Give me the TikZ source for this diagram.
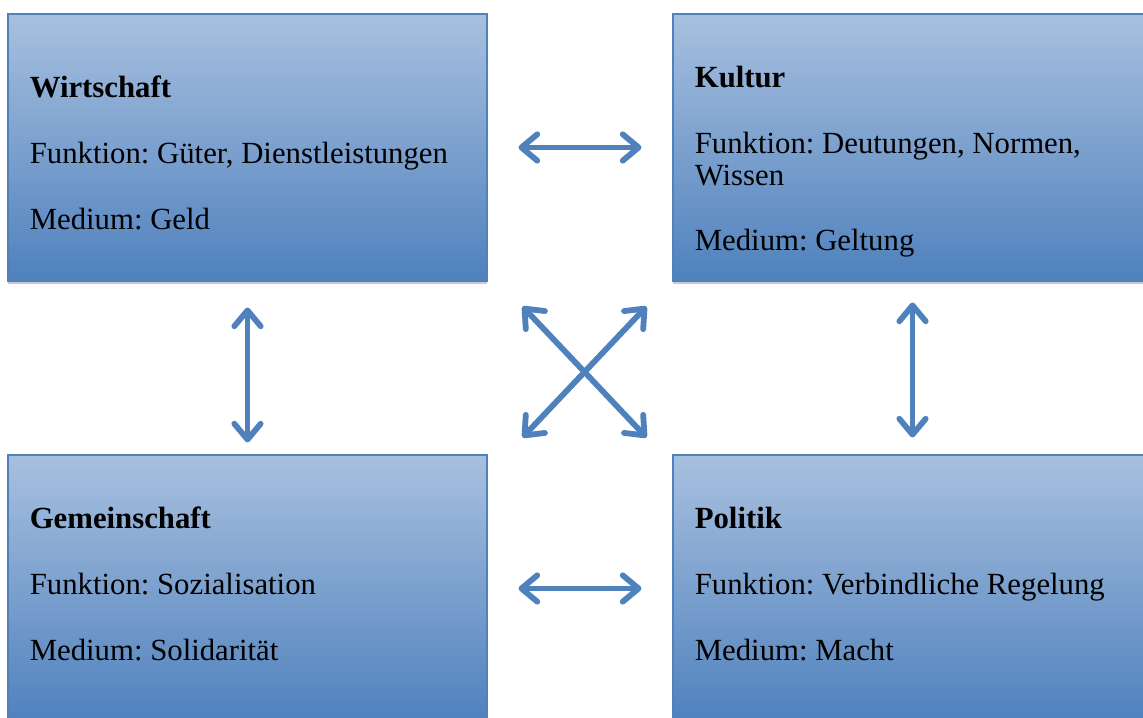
\documentclass[tikz,border=0pt]{standalone}
\usepackage{fontspec}
\setmainfont{Liberation Serif}
\usetikzlibrary{arrows.meta, calc, positioning, shadows}
\definecolor{feldblau}{RGB}{79,129,189}
\definecolor{feldhell}{RGB}{168,192,223}
\tikzstyle{feld} = [rectangle, draw=feldblau, line width=0.6pt, top color=feldhell, bottom color=feldblau, minimum width=9.58cm, minimum height=5.34cm, drop shadow={shadow xshift=0pt, shadow yshift=-2pt, fill=gray!60, opacity=0.7}]
\tikzstyle{inhalt} = [inner sep=0pt, align=left, font=\fontsize{17.5}{18.1}\selectfont\frenchspacing]
\tikzstyle{pfeil} = [draw=feldblau, line width=3.3pt, >={Straight Barb[length=9pt, width=15pt, round]}, <->, preaction={draw=gray!45, transform canvas={xshift=0.6pt, yshift=-1.2pt}}]

\begin{document}
\begin{tikzpicture}[node distance = 2cm]
\useasboundingbox (0,0) rectangle (22.86,14.36);
\node[feld] (wirt) at (4.95,11.41) {};
\node[feld] (kult) at (18.25,11.41) {};
\node[feld] (gem) at (4.95,2.59) {};
\node[feld] (pol) at (18.25,2.59) {};
\node[inhalt, below right=1.23cm and 0.44cm of wirt.north west] (wirttext) {\strut\textbf{Wirtschaft}\\[19.3pt] Funktion: Güter, Dienstleistungen\\[19.3pt] Medium: Geld};
\node[inhalt, below right=1.03cm and 0.44cm of kult.north west] (kulttext) {\strut\textbf{Kultur}\\[19.3pt] Funktion: Deutungen, Normen,\\ Wissen\\[19.3pt] Medium: Geltung};
\node[inhalt, below right=1.03cm and 0.44cm of gem.north west] (gemtext) {\strut\textbf{Gemeinschaft}\\[19.3pt] Funktion: Sozialisation\\[19.3pt] Medium: Solidarität};
\node[inhalt, below right=1.03cm and 0.44cm of pol.north west] (poltext) {\strut\textbf{Politik}\\[19.3pt] Funktion: Verbindliche Regelung\\[19.3pt] Medium: Macht};
% Beziehungen
\draw[pfeil, shorten <=0.62cm, shorten >=0.62cm] (wirt) -- (kult);
\draw[pfeil, shorten <=0.62cm, shorten >=0.62cm] (gem) -- (pol);
\draw[pfeil, shorten <=0.52cm, shorten >=0.24cm] (wirt) -- (gem);
\draw[pfeil, shorten <=0.42cm, shorten >=0.34cm] (kult) -- (pol);
\draw[pfeil] ($(wirt.south east)+(0.7,-0.5)$) -- ($(pol.north west)+(-0.52,0.34)$);
\draw[pfeil] ($(kult.south west)+(-0.52,-0.5)$) -- ($(gem.north east)+(0.7,0.34)$);
\end{tikzpicture}
\end{document}
